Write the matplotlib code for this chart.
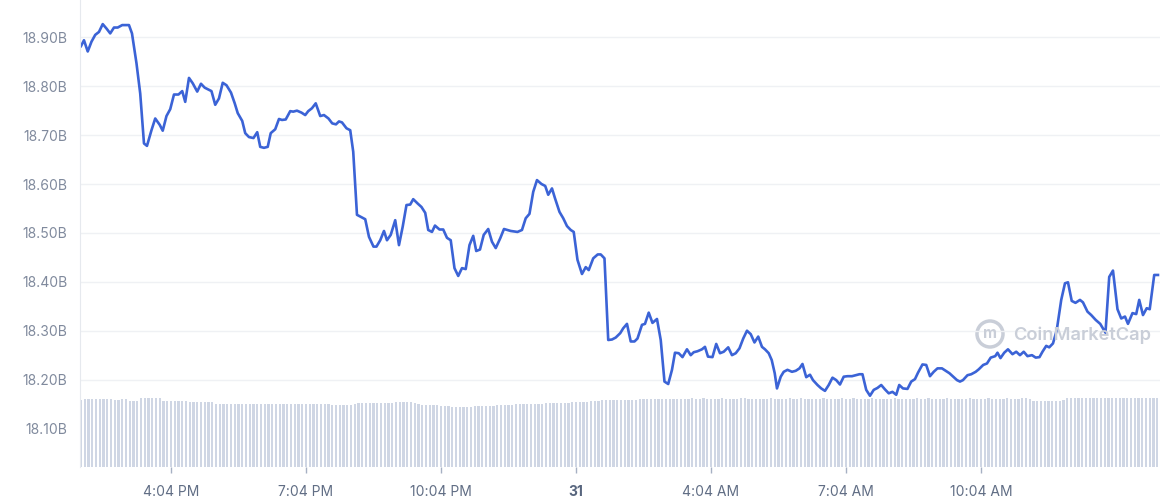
import matplotlib
matplotlib.use("Agg")
import matplotlib.pyplot as plt
from matplotlib.patches import Circle
from matplotlib.transforms import IdentityTransform

plt.rcParams['font.family'] = ['Inter', 'DejaVu Sans']

# price, minutes after 2:04 PM -> market cap in billions
price_min = [
    0, 4, 9, 14, 19, 24, 29, 34, 39, 44, 49, 55, 64, 68, 74, 79, 84, 88, 94, 99,
    105, 109, 114, 119, 124, 130, 135, 139, 144, 149, 155, 160, 165, 174, 179, 184, 189, 194, 200, 205,
    209, 215, 219, 224, 230, 235,
    239, 244, 249, 253, 259, 264, 268, 273, 279, 283, 288, 294, 299, 303, 308, 313, 319, 324, 330, 335,
    340, 344, 348, 354, 359, 363, 368, 373, 379, 384, 390, 394, 399, 404, 408, 413, 419, 424, 429, 434,
    439, 443, 449, 454, 459, 463, 468, 472,
    478, 483, 488, 493, 498, 503, 508, 513, 518, 523, 527, 532, 537, 543, 548, 553, 559, 564, 573, 582,
    588, 593, 598, 603, 608, 614, 619, 623, 628, 632, 638, 643, 648, 653, 657, 662, 668, 673, 677, 683,
    689, 693, 698, 703,
    708, 713, 719, 723, 728, 733, 738, 742, 748, 752, 757, 762, 768, 773, 778, 783, 788, 792, 797, 802,
    808, 813, 817, 822, 828, 832, 836, 842, 847, 852, 857, 863, 868, 873, 878, 883, 888, 893, 898, 903,
    908, 912, 917, 921, 925, 928, 933, 937, 942,
    948, 953, 958, 962, 967, 972, 976, 982, 987, 992, 997, 1002, 1007, 1012, 1017, 1022, 1028, 1033, 1038, 1042,
    1047, 1052, 1057, 1062, 1067, 1072, 1077, 1082, 1087, 1091, 1096, 1102, 1107, 1112, 1116, 1122, 1127, 1132, 1137, 1142,
    1148, 1153, 1158, 1163, 1168, 1172,
    1176, 1182, 1187, 1193, 1197, 1203, 1208, 1213, 1219, 1222, 1226, 1231, 1236, 1242, 1247, 1252, 1257, 1262, 1268, 1273,
    1278, 1282, 1287, 1291, 1296, 1301, 1307, 1312, 1316, 1321, 1326, 1332, 1336, 1342, 1347, 1353, 1359, 1366, 1371, 1376,
    1382, 1387, 1392, 1396, 1402, 1407, 1411, 1416, 1421, 1425, 1431, 1436,
]
price_b = [
    18.882, 18.894, 18.871, 18.891, 18.905, 18.911, 18.927, 18.918, 18.908, 18.920, 18.920, 18.925, 18.925, 18.908, 18.847, 18.785, 18.683, 18.678, 18.710, 18.734,
    18.721, 18.709, 18.739, 18.753, 18.783, 18.783, 18.790, 18.768, 18.817, 18.806, 18.789, 18.805, 18.797, 18.790, 18.762, 18.775, 18.807, 18.802, 18.787, 18.765,
    18.745, 18.729, 18.704, 18.696, 18.694, 18.706,
    18.676, 18.674, 18.676, 18.704, 18.712, 18.733, 18.731, 18.732, 18.749, 18.748, 18.750, 18.746, 18.741, 18.749, 18.755, 18.765, 18.739, 18.741, 18.734, 18.724,
    18.722, 18.728, 18.726, 18.714, 18.710, 18.666, 18.537, 18.533, 18.528, 18.492, 18.472, 18.472, 18.485, 18.504, 18.485, 18.496, 18.526, 18.475, 18.513, 18.557,
    18.558, 18.569, 18.560, 18.553, 18.541, 18.506, 18.502, 18.515,
    18.507, 18.507, 18.490, 18.485, 18.428, 18.412, 18.428, 18.426, 18.475, 18.494, 18.463, 18.466, 18.496, 18.508, 18.482, 18.469, 18.489, 18.508, 18.504, 18.502,
    18.506, 18.530, 18.539, 18.584, 18.608, 18.600, 18.596, 18.578, 18.591, 18.571, 18.543, 18.530, 18.514, 18.506, 18.502, 18.445, 18.416, 18.430, 18.424, 18.448,
    18.456, 18.456, 18.448, 18.281,
    18.282, 18.286, 18.295, 18.305, 18.314, 18.278, 18.278, 18.284, 18.312, 18.314, 18.337, 18.316, 18.324, 18.281, 18.196, 18.191, 18.220, 18.255, 18.254, 18.246,
    18.262, 18.250, 18.256, 18.258, 18.262, 18.267, 18.247, 18.246, 18.273, 18.254, 18.257, 18.266, 18.250, 18.254, 18.264, 18.284, 18.300, 18.293, 18.276, 18.288,
    18.267, 18.262, 18.254, 18.240, 18.213, 18.182, 18.206, 18.216, 18.220,
    18.216, 18.218, 18.223, 18.232, 18.205, 18.210, 18.199, 18.189, 18.182, 18.177, 18.189, 18.204, 18.199, 18.190, 18.206, 18.207, 18.207, 18.209, 18.211, 18.211,
    18.179, 18.167, 18.179, 18.183, 18.189, 18.180, 18.172, 18.175, 18.169, 18.189, 18.182, 18.181, 18.196, 18.201, 18.214, 18.231, 18.230, 18.207, 18.216, 18.223,
    18.223, 18.218, 18.213, 18.206, 18.199, 18.196,
    18.199, 18.209, 18.211, 18.216, 18.221, 18.230, 18.233, 18.245, 18.248, 18.255, 18.244, 18.255, 18.262, 18.252, 18.257, 18.250, 18.257, 18.248, 18.250, 18.245,
    18.246, 18.257, 18.269, 18.266, 18.274, 18.301, 18.363, 18.397, 18.399, 18.361, 18.357, 18.363, 18.358, 18.339, 18.332, 18.322, 18.314, 18.296, 18.410, 18.423,
    18.344, 18.325, 18.329, 18.314, 18.336, 18.334, 18.363, 18.332, 18.346, 18.344, 18.414, 18.414,
]

# volume, one bar every 5 minutes (arbitrary units), one row per hour
volume = [
    67.5, 68.0, 68.2, 68.3, 68.1, 68.0, 68.0, 67.8, 67.6, 67.5, 67.4, 67.6,
    67.8, 66.2, 66.0, 66.1, 68.9, 69.2, 69.4, 69.5, 69.3, 69.0, 66.3, 66.0,
    66.0, 65.8, 65.7, 65.8, 65.6, 65.3, 65.2, 65.2, 65.3, 65.0, 65.1, 64.8,
    63.2, 63.0, 63.0, 62.9, 63.0, 63.1, 62.8, 62.9, 63.0, 62.9, 62.8, 62.9,
    63.0, 62.9, 62.8, 63.0, 63.1, 62.9, 63.0, 62.8, 62.9, 63.0, 63.1, 63.0,
    63.0, 63.1, 62.9, 63.0, 63.0, 62.8, 62.6, 62.3, 62.0, 61.8, 61.7, 61.9,
    62.5, 63.2, 63.6, 63.8, 63.7, 63.9, 64.0, 63.8, 64.1, 64.3, 64.0, 64.2,
    64.8, 65.3, 65.4, 65.5, 65.2, 64.0, 63.0, 62.5, 62.2, 62.0, 61.9, 61.8,
    61.5, 61.0, 60.6, 60.4, 60.3, 60.3, 60.4, 60.2, 60.5, 60.8, 61.0, 61.3,
    61.3, 61.4, 61.5, 61.6, 61.8, 62.0, 62.2, 62.5, 62.8, 63.0, 63.0, 63.1,
    63.0, 63.2, 63.4, 63.5, 63.6, 63.8, 64.0, 64.1, 64.3, 64.4, 64.5, 64.6,
    64.6, 64.8, 65.0, 65.3, 65.6, 66.0, 66.4, 66.7, 66.9, 67.0, 67.1, 67.0,
    67.0, 67.2, 67.2, 67.3, 67.5, 67.6, 67.6, 67.8, 67.9, 68.0, 68.0, 68.1,
    68.2, 68.3, 68.3, 68.4, 68.5, 68.4, 68.5, 68.6, 68.5, 68.5, 68.6, 68.5,
    68.4, 68.5, 68.5, 68.6, 68.5, 68.4, 68.5, 68.5, 68.6, 68.6, 68.5, 68.5,
    68.5, 68.4, 68.5, 68.5, 68.6, 68.5, 68.5, 68.4, 68.5, 68.6, 68.5, 68.5,
    68.6, 68.5, 68.5, 68.4, 68.5, 68.5, 68.6, 68.5, 68.5, 68.4, 68.5, 68.6,
    68.5, 68.5, 68.6, 68.5, 68.4, 68.5, 68.5, 68.6, 68.5, 68.5, 68.5, 68.4,
    68.5, 68.6, 68.5, 68.5, 68.4, 68.5, 68.5, 68.6, 68.5, 68.5, 68.6, 68.5,
    68.5, 68.4, 68.5, 68.6, 68.5, 68.5, 68.4, 68.5, 68.5, 68.6, 68.5, 68.5,
    68.5, 68.5, 68.6, 68.5, 68.4, 68.5, 68.5, 68.6, 68.5, 68.4, 68.5, 68.6,
    68.6, 68.4, 66.5, 66.3, 66.2, 66.3, 66.2, 66.3, 66.4, 66.3, 67.5, 68.6,
    68.7, 68.6, 68.7, 68.8, 68.7, 68.6, 68.7, 68.7, 68.8, 68.7, 68.6, 68.7,
    68.7, 68.8, 68.7, 68.6, 68.7, 68.7, 68.8, 68.7, 68.7, 68.6, 68.7, 68.7,
]
volume_min = [5 * i for i in range(len(volume))]

tick_min = [120, 300, 480, 660, 840, 1020, 1200]
tick_labels = ["4:04 PM", "7:04 PM", "10:04 PM", "31", "4:04 AM", "7:04 AM", "10:04 AM"]
y_ticks = [18.1, 18.2, 18.3, 18.4, 18.5, 18.6, 18.7, 18.8, 18.9]

fig = plt.figure(figsize=(11.61, 5.0), dpi=100)
ax = fig.add_axes([80 / 1161, 33 / 500, 1080 / 1161, 467 / 500])
vol_ax = ax.twinx()
vol_ax.set_zorder(0)
ax.set_zorder(1)
ax.patch.set_visible(False)

vol_ax.bar(volume_min, volume, width=2.8, color='#cfd6e4', align='center', linewidth=0)
vol_ax.set_ylim(0, 467)
vol_ax.set_yticks([])
for s in vol_ax.spines.values():
    s.set_visible(False)

ax.plot(price_min, price_b, color='#3b63d6', linewidth=1.9, solid_joinstyle='round')
ax.set_xlim(-1.3, 1438.7)
ax.set_ylim(18.0213, 18.9763)

ax.set_yticks(y_ticks)
ax.set_yticklabels(["%.2fB" % v for v in y_ticks])
ax.tick_params(axis='y', length=0, pad=9, labelsize=10, labelcolor='#808a9d')
ax.grid(axis='y', color='#eff1f4', linewidth=1)
ax.get_ygridlines()[0].set_visible(False)

ax.set_xticks(tick_min)
ax.set_xticklabels(tick_labels)
ax.tick_params(axis='x', length=4, width=1, color='#a6b0c3', pad=9, labelsize=10, labelcolor='#616e85')
lab = ax.get_xticklabels()[3]
lab.set_fontweight('bold')
lab.set_color('#58667e')

for name, s in ax.spines.items():
    s.set_visible(name == 'left')
ax.spines['left'].set_color('#e6e9ee')

# watermark
fig.add_artist(Circle((990, 500 - 334), 13, transform=IdentityTransform(),
                      fill=False, edgecolor='#c9ced8', linewidth=2.5))
fig.text(990 / 1161, 1 - 334 / 500, 'm', color='#c9ced8', fontsize=11,
         fontweight='bold', ha='center', va='center')
fig.text(1013 / 1161, 1 - 335 / 500, 'CoinMarketCap', color='#c9ced8', fontsize=13.2,
         fontweight='semibold', ha='left', va='center')

fig.savefig('out.png', dpi=100, facecolor='white')
